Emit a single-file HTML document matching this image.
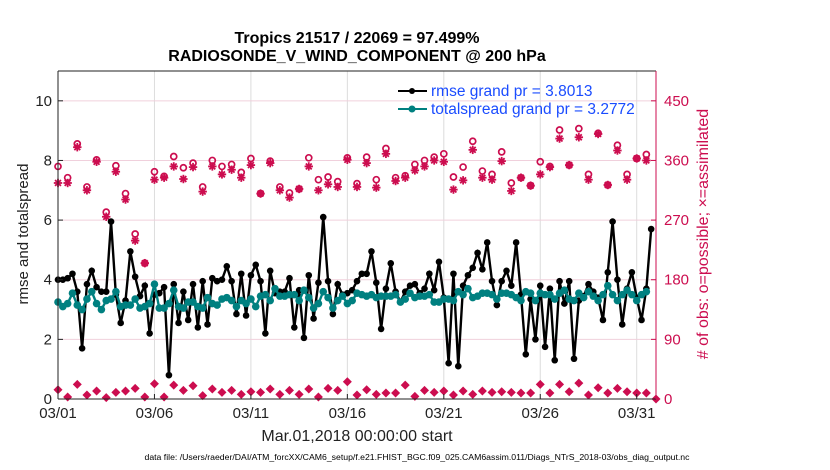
<!DOCTYPE html>
<html><head><meta charset="utf-8">
<style>
body{margin:0;background:#fff;}
svg{display:block;font-family:"Liberation Sans",sans-serif;}
</style></head>
<body>
<svg id="chart" width="830" height="470" xmlns="http://www.w3.org/2000/svg">
<text x="357" y="43" text-anchor="middle" font-size="16" font-weight="bold">Tropics 21517 / 22069 = 97.499%</text>
<text x="357" y="61" text-anchor="middle" font-size="16" font-weight="bold">RADIOSONDE_V_WIND_COMPONENT @ 200 hPa</text>
<g id="grid"></g>
<g id="marks"></g>
<g id="axes"></g>
<text transform="translate(28,234) rotate(-90)" text-anchor="middle" font-size="15" fill="#222">rmse and totalspread</text>
<text transform="translate(708,234) rotate(-90)" text-anchor="middle" font-size="16" fill="#cc0d4f"># of obs: o=possible; ×=assimilated</text>
<text x="357" y="441" text-anchor="middle" font-size="16" fill="#222">Mar.01,2018 00:00:00 start</text>
<text x="417" y="460" text-anchor="middle" font-size="8.7" fill="#000">data file: /Users/raeder/DAI/ATM_forcXX/CAM6_setup/f.e21.FHIST_BGC.f09_025.CAM6assim.011/Diags_NTrS_2018-03/obs_diag_output.nc</text>
<g>
<line x1="398" y1="91" x2="427" y2="91" stroke="#000" stroke-width="2"/>
<circle cx="412" cy="91" r="3" fill="#000"/>
<text x="431" y="96" font-size="15.5" fill="#1a4cff">rmse grand pr = 3.8013</text>
<line x1="398" y1="109" x2="427" y2="109" stroke="#008080" stroke-width="2"/>
<circle cx="412" cy="109" r="3.5" fill="#008080"/>
<text x="431" y="114" font-size="15.5" fill="#1a4cff">totalspread grand pr = 3.2772</text>
</g>
</svg>
<script>
const rmse=[4.0,4.0,4.05,4.2,3.6,1.7,3.85,4.3,3.75,3.6,3.6,5.95,3.5,2.55,3.3,4.95,4.1,3.45,3.8,2.2,3.5,3.55,3.75,0.8,3.85,2.55,3.6,2.65,3.85,2.4,3.95,2.5,4.05,3.95,4.0,4.45,3.95,2.85,4.2,2.8,4.15,4.5,3.95,2.2,4.3,3.55,3.6,3.6,4.05,2.4,3.65,2.05,4.15,2.7,3.9,6.1,3.95,2.85,3.85,3.5,3.55,
3.65,3.95,4.2,4.2,4.95,3.9,2.35,3.7,4.55,3.6,3.25,3.6,3.8,3.85,3.55,3.7,4.2,3.65,4.6,3.4,1.2,4.2,1.1,3.8,4.15,4.4,4.9,4.35,5.25,3.95,3.15,3.95,4.3,3.8,5.25,3.5,1.5,3.35,2.0,3.8,1.75,3.7,1.3,3.95,3.2,3.95,1.35,3.3,3.45,3.85,3.6,3.4,2.65,4.25,5.95,4.0,2.5,3.7,4.25,3.4,2.65,3.7,5.7];
const spread=[3.25,3.1,3.2,3.55,3.15,3.0,3.35,3.6,3.2,3.0,3.3,3.35,3.6,3.1,3.15,3.15,3.35,3.05,3.1,3.2,3.85,3.05,3.05,3.2,3.65,3.1,3.05,3.25,3.25,3.1,3.05,3.4,3.2,3.15,3.35,3.4,3.3,3.1,3.3,3.2,3.35,3.1,3.45,3.5,3.3,3.7,3.45,3.45,3.5,3.5,3.3,3.65,3.4,3.05,3.2,3.6,3.4,3.05,3.3,3.45,3.2,
3.3,3.55,3.5,3.45,3.5,3.4,3.45,3.45,3.45,3.5,3.25,3.35,3.55,3.4,3.45,3.45,3.5,3.25,3.25,3.35,3.35,3.3,3.6,3.5,3.7,3.4,3.45,3.55,3.55,3.5,3.35,3.55,3.55,3.5,3.4,3.3,3.6,3.55,3.3,3.55,3.5,3.5,3.35,3.55,3.65,3.35,3.3,3.55,3.4,3.6,3.45,3.3,3.5,3.8,3.5,3.3,3.5,3.65,3.5,3.3,3.5,3.6];
const possible=[351,334,385,320,361,282,352,310,249,205,343,336,366,349,356,320,360,351,354,342,363,310,359,320,311,317,364,331,335,328,364,
325,365,331,378,334,337,354,360,365,370,335,350,389,344,339,373,326,334,322,358,351,406,353,408,339,401,323,383,339,363,369];
const assimilated=[326,326,380,315,358,275,343,301,239,205,331,334,351,332,350,313,351,339,346,334,353,310,356,315,304,317,351,315,324,320,361,
320,356,319,370,329,334,345,351,360,358,316,330,376,334,331,359,314,334,322,339,350,393,353,395,331,400,323,375,331,363,360];
const lowobs=[14,3,22,6,12,2,10,12,16,3,23,3,21,13,20,5,15,10,13,7,11,10,15,7,13,7,15,3,16,13,26,
6,14,7,9,9,21,4,13,10,12,6,12,7,12,10,11,10,9,9,22,9,22,11,24,6,17,9,16,11,9,9,0];
const xTicks=['03/01','03/06','03/11','03/16','03/21','03/26','03/31'];
const yTicksL=[0,2,4,6,8,10];
const yTicksR=[0,90,180,270,360,450];

const X0=58,X1=656,Y0=399,Y1=71,DAYS=31;
const xs=d=>X0+d/DAYS*(X1-X0);
const yL=v=>Y0-v/11*(Y0-Y1);
const yR=v=>Y0-v/495*(Y0-Y1);
const NS='http://www.w3.org/2000/svg';
function mk(tag,attrs,parent){const e=document.createElementNS(NS,tag);for(const k in attrs)e.setAttribute(k,attrs[k]);parent.appendChild(e);return e;}
const grid=document.getElementById('grid'),marks=document.getElementById('marks'),axes=document.getElementById('axes');
const C='#cc0d4f';
xTicks.forEach((t,i)=>{const x=xs(i*5);
 const g=mk('line',{x1:x,y1:Y1,x2:x,y2:Y0,stroke:'#dcdcdc','stroke-width':1},grid);
 
 
 const tx=mk('text',{x:x,y:Y0+19,'text-anchor':'middle','font-size':15,fill:'#222'},axes);tx.textContent=t;
 
 
 mk('line',{x1:x,y1:Y0,x2:x,y2:Y0-5,stroke:'#222'},axes);
});
yTicksR.forEach(v=>{const y=yR(v);
 const g=mk('line',{x1:X0,y1:y,x2:X1,y2:y,stroke:'#f0d0dc','stroke-width':1},grid);
 
 
 const tx=mk('text',{x:X1+8,y:y+5,'font-size':15,fill:C},axes);tx.textContent=v;
 
 
 mk('line',{x1:X1,y1:y,x2:X1-5,y2:y,stroke:C},axes);
});
yTicksL.forEach(v=>{const y=yL(v);
 const tx=mk('text',{x:X0-6,y:y+5,'text-anchor':'end','font-size':15,fill:'#222'},axes);tx.textContent=v;
 
 
 mk('line',{x1:X0,y1:y,x2:X0+5,y2:y,stroke:'#222'},axes);
});
mk('line',{x1:X0,y1:Y1,x2:X1,y2:Y1,stroke:'#222'},axes);
mk('line',{x1:X0,y1:Y0,x2:X1,y2:Y0,stroke:'#222'},axes);
mk('line',{x1:X0,y1:Y1,x2:X0,y2:Y0,stroke:'#222'},axes);
mk('line',{x1:X1,y1:Y1,x2:X1,y2:Y0,stroke:C},axes);

function star(x,y,p){const s=4.2;
 const g=mk('g',{stroke:C,'stroke-width':1.8},p);
 mk('line',{x1:x-s,y1:y,x2:x+s,y2:y},g);mk('line',{x1:x,y1:y-s,x2:x,y2:y+s},g);
 mk('line',{x1:x-s*.7,y1:y-s*.7,x2:x+s*.7,y2:y+s*.7},g);mk('line',{x1:x-s*.7,y1:y+s*.7,x2:x+s*.7,y2:y-s*.7},g);
 return g;}
possible.forEach((v,i)=>{const c=mk('circle',{cx:xs(i*0.5),cy:yR(v),r:3,fill:'none',stroke:C,'stroke-width':1.7},marks);
 
 });
assimilated.forEach((v,i)=>{const g=star(xs(i*0.5),yR(v),marks);
 
 });
lowobs.forEach((v,i)=>{const x=xs(i*0.5),y=yR(v);
 const d=mk('polygon',{points:`${x},${y-4.5} ${x+4.5},${y} ${x},${y+4.5} ${x-4.5},${y}`,fill:C},marks);
 
 });
function series(arr,color,r,name){
 const pts=arr.map((v,i)=>[xs(i*0.25),yL(v)]);
 const pl=mk('polyline',{points:pts.map(p=>p.join(',')).join(' '),fill:'none',stroke:color,'stroke-width':2.4},marks);
 
 
 pts.forEach(p=>{const c=mk('circle',{cx:p[0],cy:p[1],r:r,fill:color},marks);
  
  });
}
series(rmse,'#000',3.3,'rmse');
series(spread,'#008080',3.8,'totalspread');
</script>
</body></html>
